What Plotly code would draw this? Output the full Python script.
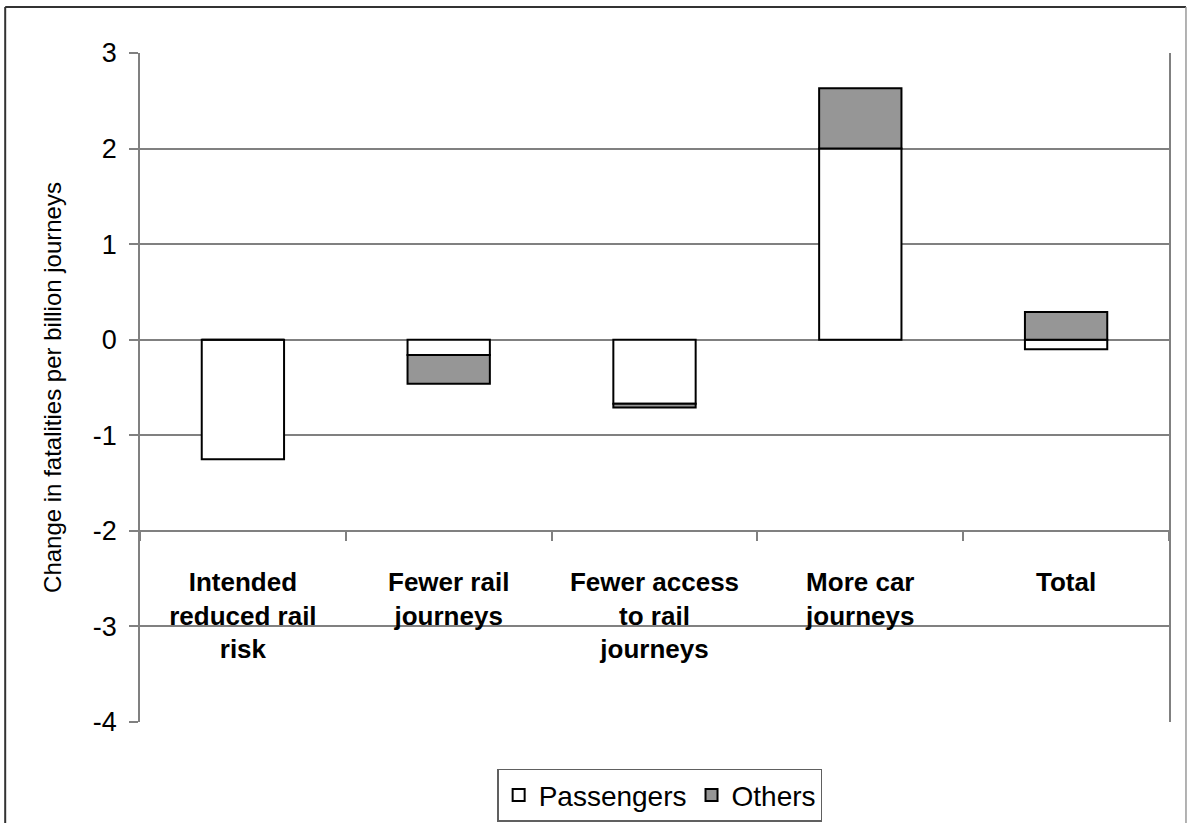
import plotly.graph_objects as go

categories = [
    "<b>Intended<br>reduced rail<br>risk</b>",
    "<b>Fewer rail<br>journeys</b>",
    "<b>Fewer access<br>to rail<br>journeys</b>",
    "<b>More car<br>journeys</b>",
    "<b>Total</b>",
]
passengers = [-1.25, -0.16, -0.67, 2.0, -0.10]
others = [0.0, -0.30, -0.04, 0.63, 0.29]
y_ticks = [3, 2, 1, 0, -1, -2, -3, -4]

FONT = "Liberation Sans, Arial, sans-serif"
GRID = "#808080"

fig = go.Figure()
fig.add_trace(go.Bar(
    x=categories, y=passengers, name="Passengers", width=0.4,
    marker=dict(color="white", line=dict(color="black", width=2)),
))
fig.add_trace(go.Bar(
    x=categories, y=others, name="Others", width=0.4,
    marker=dict(color="#969696", line=dict(color="black", width=2)),
))

fig.update_layout(
    barmode="relative",
    width=1187, height=823,
    margin=dict(l=140, r=18, t=53, b=101, autoexpand=False),
    paper_bgcolor="white", plot_bgcolor="white",
    font=dict(family=FONT, color="black"),
    showlegend=True,
    legend=dict(
        orientation="h", x=0.505, xanchor="center", y=-0.07, yanchor="top",
        bordercolor="#606060", borderwidth=1.5,
        font=dict(size=28, family=FONT), itemwidth=30,
        traceorder="normal", tracegroupgap=0,
    ),
    xaxis=dict(
        anchor="free", position=2/7, automargin=False,
        showline=True, linecolor=GRID, linewidth=1.5,
        ticks="outside", tickson="boundaries", ticklen=9, tickcolor=GRID, tickwidth=1.5,
        tickfont=dict(size=26, family=FONT, color="black"),
        ticklabelstandoff=28,
        showgrid=False,
    ),
    yaxis=dict(
        range=[-4, 3], tickvals=y_ticks, ticktext=[str(v) for v in y_ticks],
        automargin=False,
        showgrid=True, gridcolor=GRID, gridwidth=1.5,
        zeroline=False,
        showline=True, linecolor=GRID, linewidth=1.5, mirror=True,
        ticks="outside", ticklen=9, tickcolor=GRID, tickwidth=1.5,
        tickfont=dict(size=27, family=FONT, color="black"),
        ticklabelstandoff=7,
        title=dict(text="Change in fatalities per billion journeys",
                   font=dict(size=24, family=FONT, color="black"), standoff=24),
    ),
)

# outer chart border
fig.add_shape(type="line", xref="paper", yref="paper",
              x0=-0.131, x1=1.0165, y0=1.0688, y1=1.0688,
              line=dict(color="#333333", width=2))
fig.add_shape(type="line", xref="paper", yref="paper",
              x0=-0.131, x1=-0.131, y0=1.0688, y1=-0.2,
              line=dict(color="#333333", width=2))
fig.add_shape(type="line", xref="paper", yref="paper",
              x0=1.0165, x1=1.0165, y0=1.0688, y1=-0.2,
              line=dict(color="#999999", width=1.5))

fig.write_html("out.html")
